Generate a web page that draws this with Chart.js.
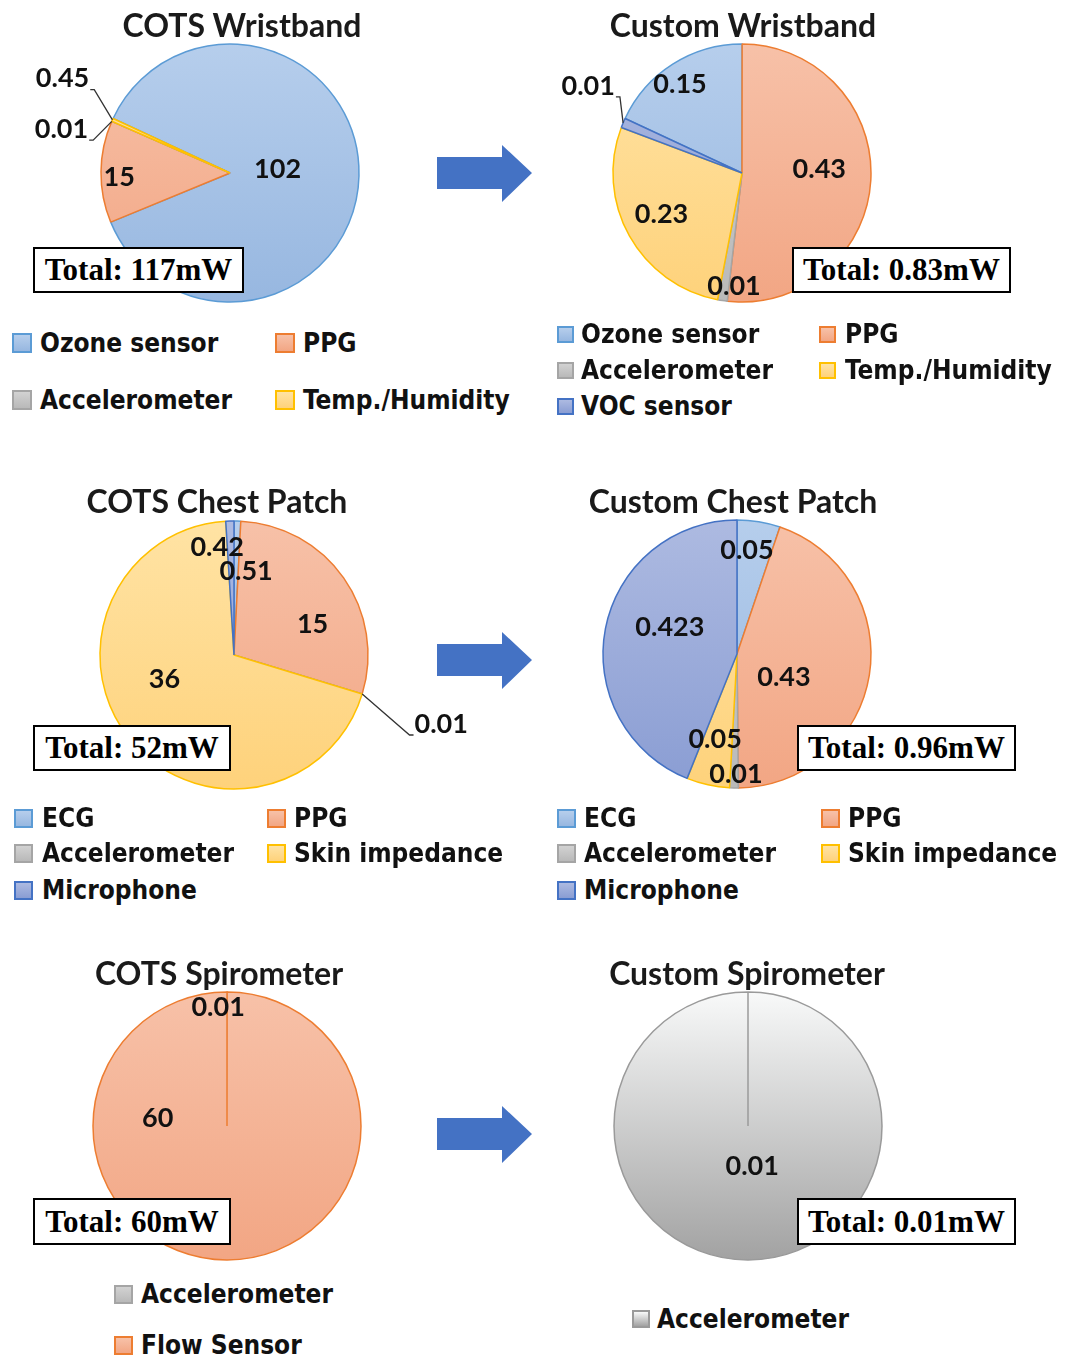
<!DOCTYPE html>
<html><head><meta charset="utf-8">
<script src="https://cdn.jsdelivr.net/npm/chart.js@4.4.1/dist/chart.umd.min.js"></script>
<style>
html,body{margin:0;padding:0;background:#fff;}
#wrap{position:relative;width:1074px;height:1361px;overflow:hidden;background:#fff;}
canvas.pie{position:absolute;}
.title{position:absolute;font-family:Lato,'Open Sans',sans-serif;font-weight:bold;font-size:32px;line-height:32px;color:#1a1a1a;white-space:nowrap;transform:translateX(-50%);}
.total{position:absolute;border:2px solid #000;background:#fff;font-family:'Liberation Serif','Times New Roman',serif;font-weight:bold;font-size:31px;box-sizing:border-box;display:flex;align-items:center;justify-content:center;color:#000;white-space:nowrap;}
.leg{position:absolute;font-family:'DejaVu Sans Condensed','DejaVu Sans',sans-serif;font-stretch:condensed;font-weight:bold;font-size:26px;line-height:30px;color:#111;white-space:nowrap;}
.sw{position:absolute;box-sizing:border-box;border:2px solid;}
svg.arrow{position:absolute;left:0;top:0;}
</style></head><body><div id="wrap"></div>
<script>
// ---------------- DATA ----------------
const wristCotsLabels   = ['Ozone sensor','PPG','Accelerometer','Temp./Humidity'];
const wristCotsValues   = [102, 15, 0.01, 0.45];
const wristCustomLabels = ['Ozone sensor','PPG','Accelerometer','Temp./Humidity','VOC sensor'];
const wristCustomValues = [0.15, 0.43, 0.01, 0.23, 0.01];
const chestLabels       = ['ECG','PPG','Accelerometer','Skin impedance','Microphone'];
const chestCotsValues   = [0.42, 15, 0.01, 36, 0.51];
const chestCustomValues = [0.05, 0.43, 0.01, 0.05, 0.423];
const spiroCotsLabels   = ['Accelerometer','Flow Sensor'];
const spiroCotsValues   = [0.01, 60];
const spiroCustomLabels = ['Accelerometer'];
const spiroCustomValues = [0.01];
const chartTitles = ['COTS Wristband','Custom Wristband','COTS Chest Patch','Custom Chest Patch','COTS Spirometer','Custom Spirometer'];
const totalTexts  = ['Total: 117mW','Total: 0.83mW','Total: 52mW','Total: 0.96mW','Total: 60mW','Total: 0.01mW'];

// ---------------- STYLE ----------------
const palette = {
  blue:   {top:'#b6ceec', bottom:'#97b7e0', border:'#5b9bd5'},
  orange: {top:'#f7c1a8', bottom:'#f2a684', border:'#ed7d31'},
  gray:   {top:'#d2d2d2', bottom:'#b9b9b9', border:'#a5a5a5'},
  yellow: {top:'#ffe3a4', bottom:'#fed27b', border:'#ffc000'},
  navy:   {top:'#adbae1', bottom:'#8a9dd3', border:'#4472c4'},
  silver: {top:'#f8f9f9', bottom:'#a2a2a2', border:'#9a9a9a'}
};
const colorKey = {'Ozone sensor':'blue','ECG':'blue','PPG':'orange','Flow Sensor':'orange','Accelerometer':'gray',
  'Temp./Humidity':'yellow','Skin impedance':'yellow','VOC sensor':'navy','Microphone':'navy'};

// ---------------- LAYOUT ----------------
const charts = [
  {labels:wristCotsLabels, values:wristCotsValues, cx:230, cy:173, r:129, rot:295,
   titleX:242, titleBase:37, total:[33,247,211,46],
   place:[{r:.37,dA:-6},{r:.86,dA:-2.6},{r:1.35,dA:-9,leader:true},{r:1.49,dA:5.1,leader:true}],
   legend:{size:20, items:[[12,343,40],[275,343,303],[12,400,40],[275,400,303]]}},
  {labels:wristCustomLabels, values:wristCustomValues, cx:742, cy:173, r:129, rot:295,
   titleX:743, titleBase:37, total:[792,247,219,46],
   place:[{r:.84,dA:-2.4},{r:.60,dA:-6},{r:.88,dA:-4.7},{r:.70,dA:2.2},{r:1.37,dA:6.7,leader:true}],
   legend:{size:17, items:[[557,334,581],[819,334,845],[557,370,581],[819,370,845],[557,406,581]]}},
  {labels:chestLabels, values:chestCotsValues, cx:234, cy:655, r:134, rot:0,
   titleX:217, titleBase:513, total:[33,725,198,46],
   place:[{r:.81,dA:-10.4},{r:.63,dA:13.7},{r:1.63,dA:1.5,leader:true},{r:.55,dA:19},{r:.63,dA:10}],
   legend:{size:19, items:[[14,818,42],[267,818,294],[14,853,42],[267,853,294],[14,890,42]]}},
  {labels:chestLabels, values:chestCustomValues, cx:737, cy:654, r:134, rot:0,
   titleX:733, titleBase:513, total:[797,725,219,46],
   place:[{r:.78,dA:-3.9},{r:.39,dA:17},{r:.90,dA:-0.8},{r:.66,dA:1.8},{r:.54,dA:11}],
   legend:{size:19, items:[[557,818,584],[821,818,848],[557,853,584],[821,853,848],[557,890,584]]}},
  {labels:spiroCotsLabels, values:spiroCotsValues, cx:227, cy:1126, r:134, rot:0,
   titleX:219, titleBase:985, total:[33,1198,198,47],
   place:[{r:.89,dA:-4.3},{r:.52,dA:96.5}],
   legend:{size:19, items:[[114,1294,141],[114,1345,141]]}},
  {labels:spiroCustomLabels, values:spiroCustomValues, cx:748, cy:1126, r:134, rot:0, silver:true,
   titleX:747, titleBase:985, total:[797,1198,219,47],
   place:[{r:.30,dA:-6}],
   legend:{size:18, items:[[632,1319,657]]}}
];
const arrowCentersY = [173, 660, 1134];

// ---------------- PLUGIN ----------------
const sliceLabels = {
  id:'sliceLabels',
  afterDatasetsDraw(chart, args, opts){
    const ctx = chart.ctx;
    const meta = chart.getDatasetMeta(0);
    const vals = chart.data.datasets[0].data;
    ctx.save();
    ctx.font = opts.font;
    ctx.fillStyle = '#111';
    ctx.textAlign = 'center';
    ctx.textBaseline = 'middle';
    meta.data.forEach((arc, i) => {
      const p = opts.place[i]; if (!p) return;
      const {x, y, startAngle, endAngle, outerRadius} = arc.getProps(['x','y','startAngle','endAngle','outerRadius'], true);
      const mid = (startAngle + endAngle) / 2;
      const a = mid + p.dA * Math.PI / 180;
      const lx = x + Math.cos(a) * p.r * outerRadius;
      const ly = y + Math.sin(a) * p.r * outerRadius;
      const txt = String(vals[i]);
      if (p.leader) {
        const w = ctx.measureText(txt).width;
        const ex = x + Math.cos(mid) * outerRadius, ey = y + Math.sin(mid) * outerRadius;
        const side = lx < x ? 1 : -1;
        const bx = lx + side * (w / 2 + 1), by = ly + 11;
        ctx.strokeStyle = '#333'; ctx.lineWidth = 1.3;
        ctx.beginPath(); ctx.moveTo(bx, by); ctx.lineTo(bx + side * 4, by); ctx.lineTo(ex, ey); ctx.stroke();
      }
      ctx.fillText(txt, lx, ly);
    });
    ctx.restore();
  }
};

// ---------------- BUILD ----------------
const wrap = document.getElementById('wrap');
const W = 520, H = 300;

function gradFill(keys, R){
  return (c) => {
    const p = palette[keys[c.dataIndex]] || palette.gray;
    const area = c.chart.chartArea;
    if (!area) return p.top;
    const cy = (area.top + area.bottom) / 2;
    const g = c.chart.ctx.createLinearGradient(0, cy - R, 0, cy + R);
    g.addColorStop(0, p.top); g.addColorStop(1, p.bottom);
    return g;
  };
}

charts.forEach((cfg, idx) => {
  const keys = cfg.labels.map(l => cfg.silver ? 'silver' : colorKey[l]);
  const cv = document.createElement('canvas');
  cv.className = 'pie'; cv.width = W; cv.height = H;
  cv.style.left = (cfg.cx - W/2) + 'px'; cv.style.top = (cfg.cy - H/2) + 'px';
  cv.style.width = W + 'px'; cv.style.height = H + 'px';
  wrap.appendChild(cv);
  new Chart(cv, {
    type: 'pie',
    data: {labels: cfg.labels, datasets: [{
      data: cfg.values,
      backgroundColor: gradFill(keys, cfg.r),
      borderColor: keys.map(k => palette[k].border),
      borderWidth: 1.5,
      radius: cfg.r,
      rotation: cfg.rot
    }]},
    options: {
      responsive: false, animation: false, events: [], devicePixelRatio: 1,
      rotation: cfg.rot, radius: cfg.r, layout: {padding: 0},
      plugins: {legend: {display: false}, tooltip: {enabled: false},
        sliceLabels: {place: cfg.place, font: 'bold 27px Lato'}}
    },
    plugins: [sliceLabels]
  });

  const t = document.createElement('div');
  t.className = 'title'; t.textContent = chartTitles[idx];
  t.style.left = cfg.titleX + 'px'; t.style.top = (cfg.titleBase - 28.4) + 'px';
  wrap.appendChild(t);

  const b = document.createElement('div');
  b.className = 'total'; b.textContent = totalTexts[idx];
  const [bx, by, bw, bh] = cfg.total;
  Object.assign(b.style, {left: bx + 'px', top: by + 'px', width: bw + 'px', height: bh + 'px'});
  wrap.appendChild(b);

  cfg.legend.items.forEach((it, i) => {
    const [sx, sy, tx] = it; const s = cfg.legend.size; const p = palette[keys[i]];
    const sw = document.createElement('div');
    sw.className = 'sw';
    Object.assign(sw.style, {left: sx + 'px', top: (sy - s/2) + 'px', width: s + 'px', height: s + 'px',
      borderColor: p.border, background: 'linear-gradient(' + p.top + ',' + p.bottom + ')'});
    wrap.appendChild(sw);
    const lt = document.createElement('div');
    lt.className = 'leg'; lt.textContent = cfg.labels[i];
    lt.style.left = tx + 'px'; lt.style.top = (sy - 15) + 'px';
    wrap.appendChild(lt);
  });
});

// arrows
const svgNS = 'http://www.w3.org/2000/svg';
const svg = document.createElementNS(svgNS, 'svg');
svg.setAttribute('class', 'arrow'); svg.setAttribute('width', 1074); svg.setAttribute('height', 1361);
arrowCentersY.forEach(cy => {
  const poly = document.createElementNS(svgNS, 'polygon');
  const pts = [[437,cy-16],[502,cy-16],[502,cy-28],[532,cy],[502,cy+29],[502,cy+16],[437,cy+16]];
  poly.setAttribute('points', pts.map(p => p.join(',')).join(' '));
  poly.setAttribute('fill', '#4472c4');
  svg.appendChild(poly);
});
wrap.appendChild(svg);
</script>
</body></html>
